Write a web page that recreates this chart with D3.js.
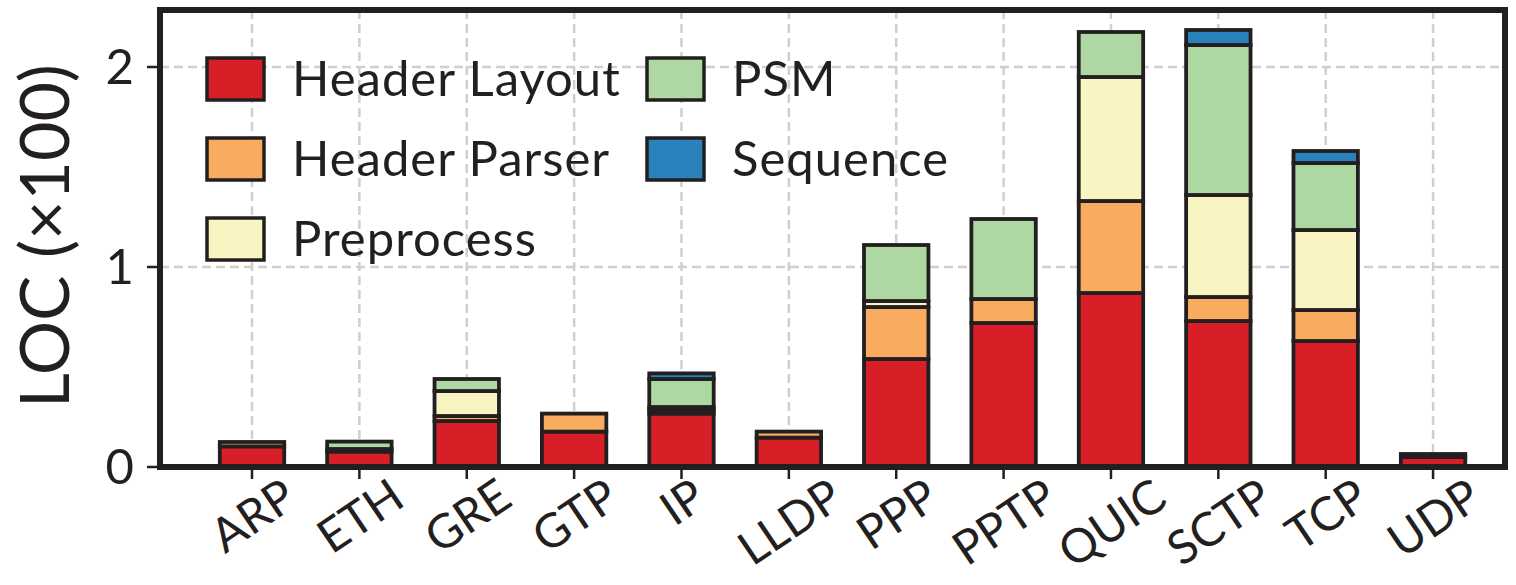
<!DOCTYPE html>
<html>
<head>
<meta charset="utf-8">
<script src="https://cdn.jsdelivr.net/npm/d3@7"></script>
<style>
  body { margin: 0; background: #fff; }
  svg { display: block; font-family: Lato, "Open Sans", sans-serif; }
</style>
</head>
<body>
<svg id="chart" width="1516" height="585"></svg>
<script>
// values in units of 100 LOC
var categories = ["ARP", "ETH", "GRE", "GTP", "IP", "LLDP", "PPP", "PPTP", "QUIC", "SCTP", "TCP", "UDP"];
var headerLayout = [0.103, 0.077, 0.23, 0.177, 0.267, 0.147, 0.54, 0.72, 0.87, 0.73, 0.63, 0.05];
var headerParser = [0.022, 0.013, 0.025, 0.09, 0.017, 0.03, 0.26, 0.12, 0.46, 0.12, 0.155, 0.015];
var preprocess   = [0, 0, 0.125, 0, 0.016, 0, 0.03, 0, 0.62, 0.51, 0.40, 0];
var psm          = [0, 0.037, 0.06, 0, 0.14, 0, 0.28, 0.40, 0.225, 0.75, 0.335, 0];
var sequence     = [0, 0, 0, 0, 0.028, 0, 0, 0, 0, 0.075, 0.06, 0];
var seriesNames  = ["Header Layout", "Header Parser", "Preprocess", "PSM", "Sequence"];
var yTicks = [0, 1, 2];

(function() {
  var colors = ["#d81f27", "#f9ab60", "#f8f5c2", "#add8a2", "#2a82bd"];
  var ink = "#231f20";

  var svg = d3.select("#chart");
  var mLeft = 160, mRight = 1505, mTop = 10, mBottom = 467;

  var x = d3.scaleLinear().domain([-0.857, 11.67]).range([mLeft, mRight]);
  var y = d3.scaleLinear().domain([0, 2.285]).range([mBottom, mTop]);
  var barW = x(0.6) - x(0);

  var rows = categories.map(function(c, i) {
    return {
      cat: c, i: i,
      "Header Layout": headerLayout[i],
      "Header Parser": headerParser[i],
      "Preprocess": preprocess[i],
      "PSM": psm[i],
      "Sequence": sequence[i]
    };
  });
  var stacked = d3.stack().keys(seriesNames)(rows);

  // grid
  var grid = svg.append("g")
      .attr("stroke", "#cfcfcf")
      .attr("stroke-width", 2.5)
      .attr("stroke-dasharray", "9,5");
  grid.selectAll(".vg").data(categories).enter().append("line")
      .attr("x1", function(d, i) { return x(i); })
      .attr("x2", function(d, i) { return x(i); })
      .attr("y1", mTop).attr("y2", mBottom);
  grid.selectAll(".hg").data(yTicks).enter().append("line")
      .attr("x1", mLeft).attr("x2", mRight)
      .attr("y1", function(d) { return y(d); })
      .attr("y2", function(d) { return y(d); });

  // bars
  svg.append("g").selectAll("g")
    .data(stacked)
    .enter().append("g")
      .attr("fill", function(d, k) { return colors[k]; })
      .attr("stroke", ink)
      .attr("stroke-width", 3.8)
    .selectAll("rect")
    .data(function(d) { return d; })
    .enter().append("rect")
      .attr("x", function(d) { return x(d.data.i) - barW / 2; })
      .attr("width", barW)
      .attr("y", function(d) { return y(d[1]); })
      .attr("height", function(d) { return y(d[0]) - y(d[1]); });

  // legend
  var legend = svg.append("g");
  var legPos = [[207, 79], [207, 159], [207, 239], [647, 79], [647, 159]];
  seriesNames.forEach(function(name, k) {
    var p = legPos[k];
    legend.append("rect")
      .attr("x", p[0]).attr("y", p[1] - 21)
      .attr("width", 57).attr("height", 42)
      .attr("fill", colors[k])
      .attr("stroke", ink).attr("stroke-width", 3.5);
    legend.append("text")
      .attr("x", p[0] + 85).attr("y", p[1] + 17)
      .attr("font-size", 49).attr("letter-spacing", 1).attr("fill", ink)
      .text(name);
  });

  // ticks
  svg.append("g").selectAll("line").data(yTicks).enter().append("line")
      .attr("x1", mLeft - 13).attr("x2", mLeft)
      .attr("y1", function(d) { return y(d); }).attr("y2", function(d) { return y(d); })
      .attr("stroke", ink).attr("stroke-width", 2.5);
  svg.append("g").selectAll("text").data(yTicks).enter().append("text")
      .attr("x", 134).attr("y", function(d) { return y(d) + 17; })
      .attr("text-anchor", "end").attr("font-size", 49).attr("fill", ink)
      .text(function(d) { return d; });

  svg.append("g").selectAll("line").data(categories).enter().append("line")
      .attr("x1", function(d, i) { return x(i); }).attr("x2", function(d, i) { return x(i); })
      .attr("y1", mBottom).attr("y2", mBottom + 12)
      .attr("stroke", ink).attr("stroke-width", 2.5);

  var angle = 34;
  categories.forEach(function(c, i) {
    var g = svg.append("g").attr("transform", "translate(" + x(i) + ",0)");
    var t = g.append("text")
        .attr("font-size", 47).attr("fill", ink)
        .attr("text-anchor", "middle")
        .attr("transform", "rotate(" + (-angle) + ")")
        .text(c);
    var b = g.node().getBBox();
    t.attr("transform", "translate(" + (-(b.x + b.width / 2)) + "," + (466 - b.y) + ") rotate(" + (-angle) + ")");
  });

  // frame
  svg.append("rect")
      .attr("x", mLeft).attr("y", mTop)
      .attr("width", mRight - mLeft).attr("height", mBottom - mTop)
      .attr("fill", "none").attr("stroke", ink).attr("stroke-width", 6);

  // y label
  svg.append("text")
      .attr("transform", "translate(69,236) rotate(-90)")
      .attr("text-anchor", "middle")
      .attr("font-size", 68).attr("fill", ink)
      .text("LOC (×100)");
})();
</script>
</body>
</html>
